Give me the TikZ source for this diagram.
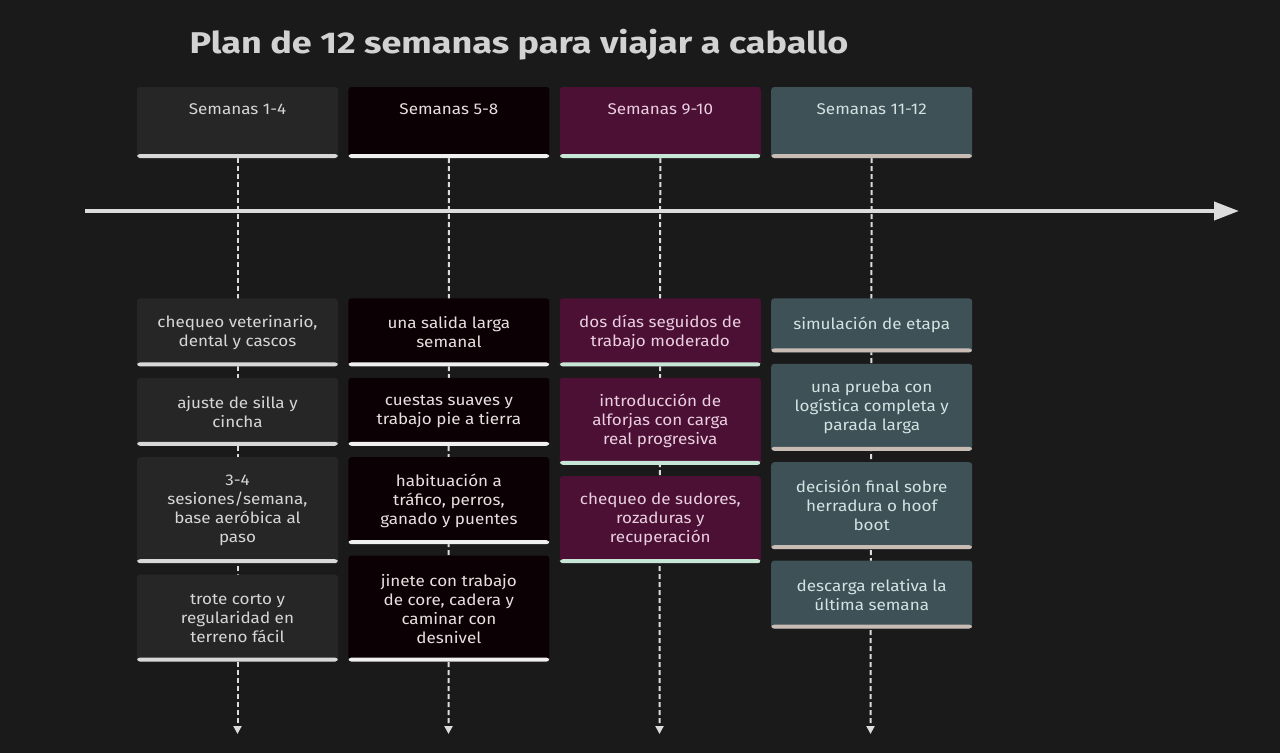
\documentclass[tikz,border=0pt]{standalone}
\usepackage{fontspec}
\setmainfont{Fira Sans}[FakeStretch=1.1]
\newfontfamily\tltitlefont{Fira Sans}[FakeStretch=1.2]
\usetikzlibrary{arrows.meta,positioning}
\definecolor{tlback}{HTML}{1A1A1A}
\definecolor{tltitle}{HTML}{D2D2D2}
\definecolor{tlguide}{HTML}{DCDCDC}
\definecolor{onefill}{HTML}{262626}
\definecolor{onebar}{HTML}{D8D8D8}
\definecolor{onetext}{HTML}{D6D6D6}
\definecolor{twofill}{HTML}{0B0104}
\definecolor{twobar}{HTML}{F0F0F0}
\definecolor{twotext}{HTML}{E6E0E0}
\definecolor{threefill}{HTML}{4B1034}
\definecolor{threebar}{HTML}{C6E6D6}
\definecolor{threetext}{HTML}{EACFE0}
\definecolor{fourfill}{HTML}{3D5157}
\definecolor{fourbar}{HTML}{C9BCB5}
\definecolor{fourtext}{HTML}{D4E2E2}
\pgfdeclarelayer{canvas}
\pgfdeclarelayer{guides}
\pgfsetlayers{canvas,guides,main}

\begin{document}
\begin{tikzpicture}[x=1pt,y=-1pt,node distance=11pt,
  every node/.style={font=\fontsize{15.5}{19}\selectfont,align=center}]
\tikzset{box/.style={rounded corners=3pt,minimum width=201pt,inner sep=4pt,
    path picture={\fill[#1] ([yshift=4pt]path picture bounding box.south west) rectangle (path picture bounding box.south east);}},
  period/.style={minimum height=71pt,inner ysep=15pt,text height=12pt,text depth=29pt},
  sone/.style={box=onebar,fill=onefill,text=onetext},
  stwo/.style={box=twobar,fill=twofill,text=twotext},
  sthree/.style={box=threebar,fill=threefill,text=threetext},
  sfour/.style={box=fourbar,fill=fourfill,text=fourtext},
  lone/.style={minimum height=54pt}, ltwo/.style={minimum height=68pt},
  lthree/.style={minimum height=87pt}, lfour/.style={minimum height=106pt},
  guide/.style={draw=tlguide,line width=2pt,dash pattern=on 5pt off 3pt,-{Triangle[width=8pt,length=8pt]}}}
\useasboundingbox (0,0) rectangle (1280,753);
\begin{pgfonlayer}{canvas}
\fill[tlback] (0,0) rectangle (1280,753);
\end{pgfonlayer}
\node[font=\tltitlefont\fontsize{30}{36}\selectfont\bfseries,text=tltitle] (title) at (519,45) {Plan de 12 semanas para viajar a caballo};
% periods
\node[period,sone] (p1) at (237.5,122.5) {Semanas 1-4};
\node[period,stwo,right=10pt of p1] (p2) {Semanas 5-8};
\node[period,sthree,right=10pt of p2] (p3) {Semanas 9-10};
\node[period,sfour,right=10pt of p3] (p4) {Semanas 11-12};
% events
\node[sone,ltwo,below=140pt of p1] (a1) {chequeo veterinario,\\dental y cascos};
\node[sone,ltwo,below=of a1] (a2) {ajuste de silla y\\cincha};
\node[sone,lfour,below=of a2] (a3) {3-4\\sesiones/semana,\\base aeróbica al\\paso};
\node[sone,lthree,below=of a3] (a4) {trote corto y\\regularidad en\\terreno fácil};
\node[stwo,ltwo,below=140pt of p2] (b1) {una salida larga\\semanal};
\node[stwo,ltwo,below=of b1] (b2) {cuestas suaves y\\trabajo pie a tierra};
\node[stwo,lthree,below=of b2] (b3) {habituación a\\tráfico, perros,\\ganado y puentes};
\node[stwo,lfour,below=of b3] (b4) {jinete con trabajo\\de core, cadera y\\caminar con\\desnivel};
\node[sthree,ltwo,below=140pt of p3] (c1) {dos días seguidos de\\trabajo moderado};
\node[sthree,lthree,below=of c1] (c2) {introducción de\\alforjas con carga\\real progresiva};
\node[sthree,lthree,below=of c2] (c3) {chequeo de sudores,\\rozaduras y\\recuperación};
\node[sfour,lone,below=140pt of p4] (d1) {simulación de etapa};
\node[sfour,lthree,below=of d1] (d2) {una prueba con\\logística completa y\\parada larga};
\node[sfour,lthree,below=of d2] (d3) {decisión final sobre\\herradura o hoof\\boot};
\node[sfour,ltwo,below=of d3] (d4) {descarga relativa la\\última semana};
% guides
\coordinate (axl) at (85,211);
\coordinate (axr) at (1239,211);
\foreach \c/\p in {237.5/p1,448.5/p2,659.5/p3,870.5/p4}{
  \coordinate (end-\p) at (\c,734);
}
\begin{pgfonlayer}{guides}
\foreach \p in {p1,p2,p3,p4}
  \draw[guide] (\p.south) -- (end-\p);
\draw[tlguide,line width=4pt,-{Triangle[width=18pt,length=25pt]}] (axl) -- (axr);
\end{pgfonlayer}
\end{tikzpicture}
\end{document}
